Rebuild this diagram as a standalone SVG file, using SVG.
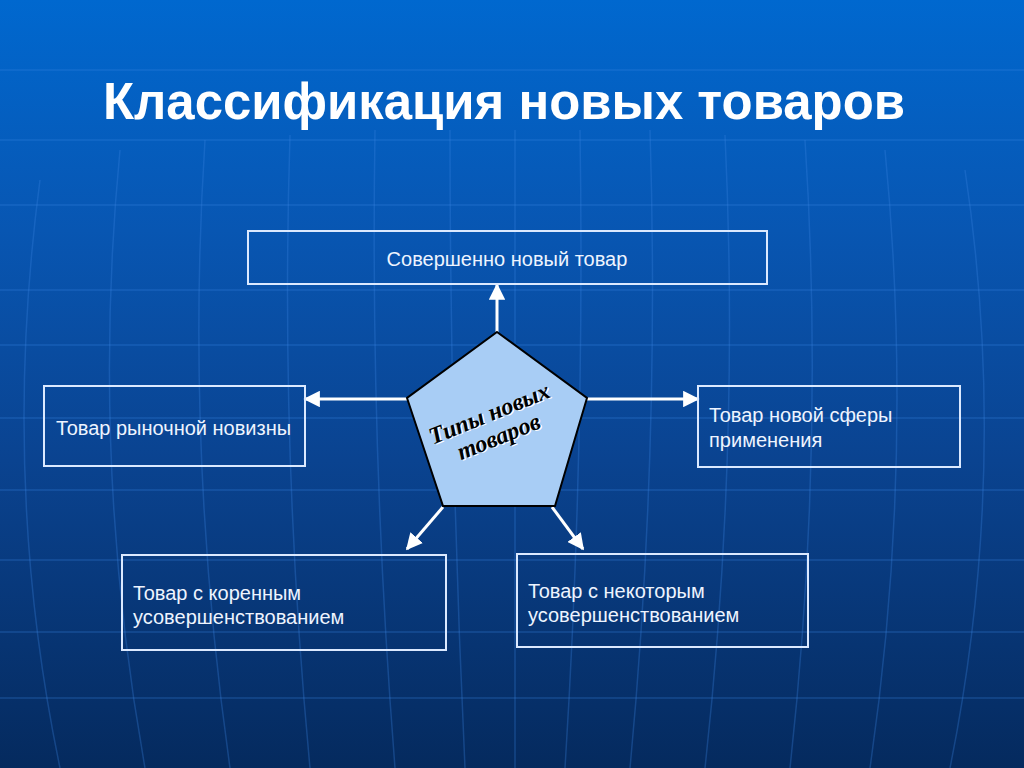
<svg xmlns="http://www.w3.org/2000/svg" width="1024" height="768" viewBox="0 0 1024 768">
<defs>
<linearGradient id="bg" x1="0" y1="0" x2="0" y2="1">
<stop offset="0" stop-color="#0068cf"/>
<stop offset="0.3" stop-color="#0856b2"/>
<stop offset="0.6" stop-color="#0a4390"/>
<stop offset="1" stop-color="#052a5e"/>
</linearGradient>
<marker id="ah" viewBox="0 0 10 10" refX="9" refY="5" markerWidth="5.5" markerHeight="5.5" markerUnits="strokeWidth" orient="auto">
<path d="M0,0 L10,5 L0,10 Z" fill="#ffffff"/>
</marker>
<style>
.box{fill:none;stroke:#dbe9ff;stroke-width:2}
.t{font-family:"Liberation Sans",Arial,sans-serif;font-size:20px;fill:#eef4ff}
.grid{stroke:#3a86e0;stroke-opacity:0.3;stroke-width:1.5;fill:none}
.conn{stroke:#ffffff;stroke-width:3;fill:none;marker-end:url(#ah)}
</style>
</defs>
<rect width="1024" height="768" fill="url(#bg)"/>
<g id="background-grid" class="grid">
<path d="M0,70 H1024"/>
<path d="M0,140 H1024"/>
<path d="M0,205 H1024"/>
<path d="M0,290 H1024"/>
<path d="M0,345 H1024"/>
<path d="M0,418 H1024"/>
<path d="M0,490 H1024"/>
<path d="M0,560 H1024"/>
<path d="M0,632 H1024"/>
<path d="M0,698 H1024"/>
<path d="M40,180 Q0,480 60,768"/>
<path d="M120,150 Q90,460 145,768"/>
<path d="M205,140 Q185,450 230,768"/>
<path d="M290,135 Q280,450 310,768"/>
<path d="M375,130 Q370,450 395,768"/>
<path d="M450,130 Q450,450 465,768"/>
<path d="M515,130 Q515,450 515,768"/>
<path d="M580,130 Q585,450 565,768"/>
<path d="M650,130 Q660,450 630,768"/>
<path d="M725,135 Q740,450 705,768"/>
<path d="M805,140 Q825,450 790,768"/>
<path d="M885,150 Q915,460 870,768"/>
<path d="M965,170 Q1010,470 950,768"/>
</g>
<text x="103" y="119" font-family="Liberation Sans,Arial,sans-serif" font-weight="bold" font-size="52" fill="#ffffff" textLength="802" lengthAdjust="spacingAndGlyphs">Классификация новых товаров</text>
<g id="connectors">
<line class="conn" x1="497" y1="332" x2="497" y2="285"/>
<line class="conn" x1="408" y1="399" x2="305" y2="399"/>
<line class="conn" x1="587" y1="399" x2="698" y2="399"/>
<line class="conn" x1="443" y1="507" x2="407" y2="549"/>
<line class="conn" x1="552" y1="507" x2="583" y2="549"/>
</g>
<g id="center">
<polygon points="497,332 587,398 555,506 443,506 407,398" fill="#a8cdf5" stroke="#000000" stroke-width="2"/>
<g transform="translate(496,430) rotate(-22)" font-family="Liberation Serif,Times New Roman,serif" font-weight="bold" font-style="italic" font-size="24" text-anchor="middle">
<text x="1.2" y="-8.8" fill="#ffffff">Типы новых</text>
<text x="0" y="-10" fill="#000000">Типы новых</text>
<text x="1.2" y="16.2" fill="#ffffff">товаров</text>
<text x="0" y="15" fill="#000000">товаров</text>
</g>
</g>
<g id="top">
<rect class="box" x="248" y="231" width="519" height="53"/>
<text class="t" x="507" y="266" text-anchor="middle">Совершенно новый товар</text>
</g>
<g id="left">
<rect class="box" x="44" y="386" width="261" height="80"/>
<text class="t" x="56" y="435">Товар рыночной новизны</text>
</g>
<g id="right">
<rect class="box" x="698" y="386" width="262" height="81"/>
<text class="t" x="709" y="422">Товар новой сферы</text>
<text class="t" x="709" y="447">применения</text>
</g>
<g id="bottom-left">
<rect class="box" x="122" y="555" width="324" height="95"/>
<text class="t" x="133" y="600">Товар с коренным</text>
<text class="t" x="133" y="624">усовершенствованием</text>
</g>
<g id="bottom-right">
<rect class="box" x="517" y="554" width="291" height="93"/>
<text class="t" x="528" y="598">Товар с некоторым</text>
<text class="t" x="528" y="622">усовершенствованием</text>
</g>
</svg>
